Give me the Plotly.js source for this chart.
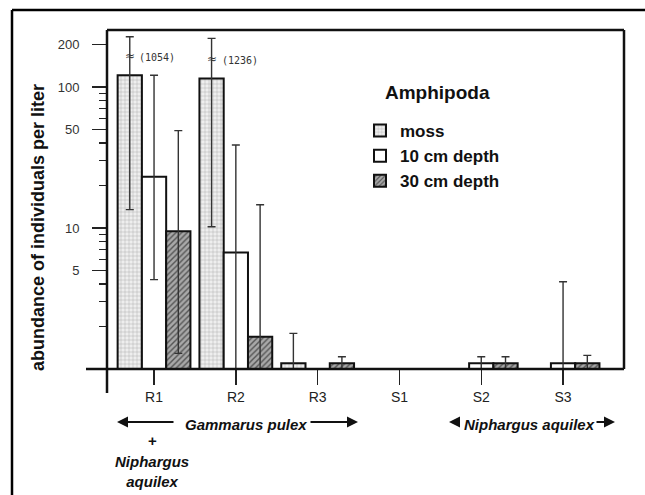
<!DOCTYPE html>
<html>
<head>
<meta charset="utf-8">
<script src="https://cdn.plot.ly/plotly-3.0.1.min.js"></script>
<style>html,body{margin:0;padding:0;background:#fff}#chart{width:645px;height:495px}</style>
</head>
<body>
<div id="chart"></div>
<script>
// ---- data ----
const sites = ['R1', 'R2', 'R3', 'S1', 'S2', 'S3'];
const seriesNames = ['moss', '10 cm depth', '30 cm depth'];

const moss   = [121, 115, 1.1, null, null, null];
const mossHi = [227, 221, 1.79, null, null, null];
const mossLo = [13.5, 10.2, 1, null, null, null];

const cm10   = [23.1, 6.7, null, null, 1.1, 1.1];
const cm10Hi = [121, 38.8, null, null, 1.22, 4.16];
const cm10Lo = [4.3, 1, null, null, 1, 1];

const cm30   = [9.5, 1.69, 1.1, null, 1.1, 1.1];
const cm30Hi = [49, 14.6, 1.22, null, 1.22, 1.25];
const cm30Lo = [1.29, 1, 1, null, 1, 1];

const yMajorTicks = [5, 10, 50, 100, 200];
const yMinorTicks = [2, 3, 4, 6, 7, 8, 9, 20, 30, 40, 60, 70, 80, 90];
const truncatedMoss = ['(1054)', '(1236)'];

// ---- helpers ----
const plus = (v, hi) => v.map((x, i) => x == null ? null : hi[i] - x);
const minus = (v, lo) => v.map((x, i) => x == null ? null : x - lo[i]);
const FONT = 'Liberation Sans, Arial, sans-serif';

function errY(v, hi, lo) {
  return {type: 'data', symmetric: false, array: plus(v, hi), arrayminus: minus(v, lo),
          color: '#333', thickness: 1.4, width: 4};
}

const traces = [
  {type: 'bar', name: seriesNames[0], x: sites, y: moss, error_y: errY(moss, mossHi, mossLo),
   marker: {color: '#e6e6e6', line: {color: '#111', width: 2},
            pattern: {shape: '+', fgcolor: '#a8a8a8', bgcolor: '#eeeeee', size: 4, solidity: 0.2}}},
  {type: 'bar', name: seriesNames[1], x: sites, y: cm10, error_y: errY(cm10, cm10Hi, cm10Lo),
   marker: {color: '#ffffff', line: {color: '#111', width: 2}}},
  {type: 'bar', name: seriesNames[2], x: sites, y: cm30, error_y: errY(cm30, cm30Hi, cm30Lo),
   marker: {color: '#9a9a9a', line: {color: '#111', width: 2},
            pattern: {shape: '/', fgcolor: '#555', bgcolor: '#a8a8a8', size: 4, solidity: 0.35}}}
];

// plot area in pixels: left 107, right 624, top 30, bottom 369
const L = 107, R = 624, T = 30, B = 369;
const W = R - L, H = B - T;
const px = x => (x - L) / W;
const py = y => (B - y) / H;

const bw = 0.89 / 3;

function txt(x, y, text, size, extra) {
  return Object.assign({xref: 'paper', yref: 'paper', x: px(x), y: py(y), text: text, showarrow: false,
    xanchor: 'center', yanchor: 'middle', font: {family: FONT, size: size, color: '#111'}}, extra || {});
}
function arrow(tipX, y, dx) {
  return {xref: 'paper', yref: 'paper', x: px(tipX), y: py(y), ax: dx, ay: 0, text: '', showarrow: true,
    arrowhead: 2, arrowsize: 1, arrowwidth: 2.2, arrowcolor: '#111'};
}

const annotations = [
  txt(437, 93, '<b>Amphipoda</b>', 19),
  txt(38, 228, '<b>abundance of individuals per liter</b>', 18, {textangle: -90}),
  // truncated upper bounds of the moss error bars
  {xref: 'x', yref: 'paper', x: 0 - bw, y: py(56), text: '≈', showarrow: false, xanchor: 'center', yanchor: 'middle',
   font: {family: 'DejaVu Sans', size: 12, color: '#333'}},
  {xref: 'x', yref: 'paper', x: 1 - bw, y: py(59), text: '≈', showarrow: false, xanchor: 'center', yanchor: 'middle',
   font: {family: 'DejaVu Sans', size: 12, color: '#333'}},
  txt(157, 57, truncatedMoss[0], 10, {font: {family: 'DejaVu Sans Mono', size: 10, color: '#333'}}),
  txt(240, 60, truncatedMoss[1], 10, {font: {family: 'DejaVu Sans Mono', size: 10, color: '#333'}}),
  // species labels
  txt(246, 424, '<b><i>Gammarus pulex</i></b>', 15),
  txt(529, 424, '<b><i>Niphargus aquilex</i></b>', 15),
  txt(152, 440, '<b>+</b>', 15),
  txt(152, 471, '<b><i>Niphargus<br>aquilex</i></b>', 15),
  // arrows
  arrow(117, 422, 58),
  arrow(358, 422, -49),
  arrow(449, 422, 11),
  arrow(615, 422, -20)
];

const shapes = [
  // axis lines extending past the corner
  {type: 'line', xref: 'paper', yref: 'paper', x0: px(86), x1: 1, y0: 0, y1: 0, line: {color: '#111', width: 2.5}, layer: 'above'},
  {type: 'line', xref: 'paper', yref: 'paper', x0: 0, x1: 0, y0: py(393), y1: 1, line: {color: '#111', width: 2.5}, layer: 'above'},
  {type: 'line', xref: 'paper', yref: 'paper', x0: 0, x1: 1, y0: 1, y1: 1, line: {color: '#111', width: 2.5}, layer: 'above'},
  {type: 'line', xref: 'paper', yref: 'paper', x0: 1, x1: 1, y0: 0, y1: 1, line: {color: '#111', width: 2.5}, layer: 'above'},
  // outer border of the figure (top and left only)
  {type: 'line', xref: 'paper', yref: 'paper', x0: px(12), x1: px(645), y0: py(10), y1: py(10), line: {color: '#000', width: 2.5}},
  {type: 'line', xref: 'paper', yref: 'paper', x0: px(12), x1: px(12), y0: py(10), y1: py(495), line: {color: '#000', width: 2.5}}
];

const layout = {
  width: 645, height: 495,
  margin: {l: L, r: 645 - R, t: T, b: 495 - B, pad: 0},
  paper_bgcolor: '#fff', plot_bgcolor: '#fff',
  barmode: 'group', bargap: 0.11, bargroupgap: 0,
  showlegend: true,
  legend: {x: px(360), y: py(113), xanchor: 'left', yanchor: 'top', bgcolor: 'rgba(0,0,0,0)',
           font: {family: FONT, size: 17, color: '#111', weight: 'bold'}, itemwidth: 30, tracegroupgap: 0,
           traceorder: 'normal'},
  xaxis: {type: 'category', categoryorder: 'array', categoryarray: sites,
          range: [-0.575, 5.745], showline: false, showgrid: false, zeroline: false,
          ticks: 'outside', ticklen: 15, tickwidth: 1.5, tickcolor: '#222',
          tickfont: {family: FONT, size: 14, color: '#222'}, fixedrange: true},
  yaxis: {type: 'log', range: [0, 2.404], showline: false, showgrid: false, zeroline: false,
          tickmode: 'array', tickvals: yMajorTicks, ticktext: yMajorTicks.map(String),
          ticks: 'outside', ticklen: 14, tickwidth: 1.5, tickcolor: '#222', ticklabelstandoff: 10,
          tickfont: {family: FONT, size: 13, color: '#333'},
          minor: {tickmode: 'array', tickvals: yMinorTicks, ticks: 'outside', ticklen: 7, tickwidth: 1.3, tickcolor: '#222', showgrid: false},
          fixedrange: true},
  annotations: annotations,
  shapes: shapes
};

Plotly.newPlot('chart', traces, layout, {staticPlot: true, displayModeBar: false});
</script>
</body>
</html>
